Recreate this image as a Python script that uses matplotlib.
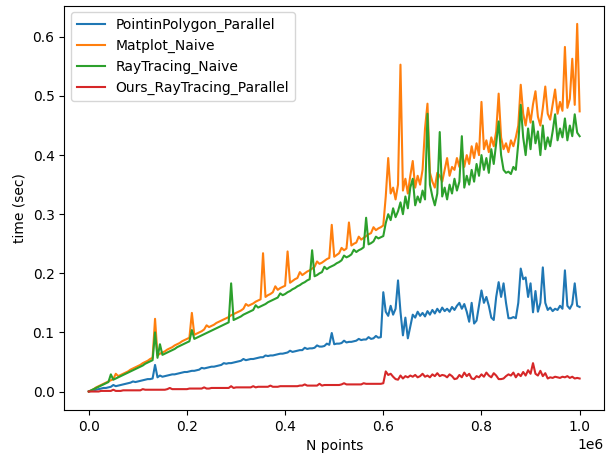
import numpy as np
import matplotlib
matplotlib.use("Agg")
import matplotlib.pyplot as plt

# number of points tested, step 5000
n_points = np.arange(0, 1000001, 5000)

# time (sec) for each method
pip_parallel = [
    0.000, 0.001, 0.002, 0.003, 0.004, 0.005, 0.006, 0.006, 0.007, 0.008,
    0.011, 0.009, 0.010, 0.011, 0.012, 0.013, 0.014, 0.015, 0.017, 0.016,
    0.017, 0.018, 0.019, 0.020, 0.021, 0.021, 0.022, 0.045, 0.024, 0.027,
    0.025, 0.026, 0.027, 0.028, 0.029, 0.029, 0.030, 0.031, 0.032, 0.033,
    0.033, 0.034, 0.035, 0.035, 0.036, 0.037, 0.040, 0.039, 0.040, 0.041,
    0.042, 0.042, 0.043, 0.044, 0.045, 0.048, 0.047, 0.048, 0.048, 0.049,
    0.050, 0.051, 0.052, 0.055, 0.053, 0.054, 0.055, 0.055, 0.056, 0.057,
    0.058, 0.058, 0.061, 0.060, 0.061, 0.061, 0.062, 0.063, 0.064, 0.064,
    0.065, 0.066, 0.069, 0.067, 0.068, 0.069, 0.070, 0.070, 0.074, 0.072,
    0.073, 0.073, 0.074, 0.078, 0.076, 0.076, 0.077, 0.081, 0.079, 0.099,
    0.080, 0.081, 0.081, 0.082, 0.086, 0.083, 0.084, 0.084, 0.085, 0.086,
    0.089, 0.087, 0.088, 0.088, 0.092, 0.089, 0.090, 0.094, 0.091, 0.092,
    0.168, 0.135, 0.128, 0.145, 0.130, 0.140, 0.188, 0.135, 0.095, 0.125,
    0.090, 0.110, 0.130, 0.125, 0.135, 0.128, 0.133, 0.127, 0.136, 0.130,
    0.138, 0.132, 0.140, 0.134, 0.142, 0.136, 0.140, 0.135, 0.143, 0.138,
    0.145, 0.150, 0.140, 0.148, 0.135, 0.118, 0.150, 0.115, 0.120, 0.145,
    0.171, 0.150, 0.160, 0.145, 0.125, 0.121, 0.160, 0.185, 0.160, 0.183,
    0.150, 0.124, 0.124, 0.126, 0.124, 0.150, 0.208, 0.190, 0.193, 0.160,
    0.183, 0.134, 0.170, 0.135, 0.150, 0.210, 0.150, 0.138, 0.142, 0.136,
    0.140, 0.138, 0.145, 0.140, 0.205, 0.145, 0.140, 0.148, 0.183, 0.145,
    0.143,
]

matplot_naive = [
    0.000, 0.002, 0.004, 0.007, 0.009, 0.011, 0.013, 0.015, 0.017, 0.019,
    0.021, 0.030, 0.026, 0.028, 0.030, 0.032, 0.034, 0.037, 0.039, 0.041,
    0.043, 0.045, 0.048, 0.050, 0.052, 0.055, 0.057, 0.123, 0.061, 0.064,
    0.066, 0.068, 0.071, 0.073, 0.075, 0.078, 0.080, 0.082, 0.085, 0.087,
    0.089, 0.091, 0.133, 0.096, 0.098, 0.100, 0.102, 0.105, 0.112, 0.109,
    0.111, 0.113, 0.116, 0.118, 0.120, 0.122, 0.124, 0.126, 0.129, 0.131,
    0.133, 0.135, 0.137, 0.140, 0.148, 0.145, 0.147, 0.149, 0.152, 0.154,
    0.156, 0.234, 0.160, 0.163, 0.165, 0.168, 0.178, 0.172, 0.175, 0.177,
    0.179, 0.237, 0.184, 0.187, 0.190, 0.192, 0.202, 0.197, 0.200, 0.203,
    0.205, 0.208, 0.211, 0.220, 0.216, 0.218, 0.221, 0.224, 0.226, 0.282,
    0.228, 0.231, 0.234, 0.243, 0.239, 0.242, 0.286, 0.247, 0.250, 0.252,
    0.262, 0.257, 0.260, 0.263, 0.266, 0.268, 0.278, 0.273, 0.276, 0.278,
    0.281, 0.330, 0.395, 0.335, 0.345, 0.325, 0.350, 0.553, 0.340, 0.360,
    0.335, 0.365, 0.390, 0.345, 0.365, 0.350, 0.375, 0.445, 0.487, 0.370,
    0.355, 0.345, 0.370, 0.365, 0.355, 0.375, 0.395, 0.365, 0.380, 0.375,
    0.395, 0.380, 0.410, 0.380, 0.400, 0.385, 0.415, 0.395, 0.420, 0.400,
    0.490, 0.410, 0.425, 0.405, 0.430, 0.415, 0.440, 0.504, 0.430, 0.410,
    0.420, 0.405, 0.425, 0.415, 0.430, 0.450, 0.519, 0.470, 0.450, 0.480,
    0.455, 0.486, 0.508, 0.465, 0.450, 0.480, 0.516, 0.470, 0.460, 0.485,
    0.511, 0.470, 0.490, 0.475, 0.583, 0.480, 0.495, 0.563, 0.485, 0.622,
    0.474,
]

raytracing_naive = [
    0.000, 0.002, 0.004, 0.006, 0.008, 0.010, 0.012, 0.014, 0.016, 0.029,
    0.020, 0.022, 0.024, 0.026, 0.028, 0.030, 0.032, 0.034, 0.036, 0.038,
    0.040, 0.042, 0.044, 0.047, 0.049, 0.051, 0.053, 0.100, 0.057, 0.080,
    0.062, 0.064, 0.066, 0.068, 0.070, 0.072, 0.075, 0.077, 0.079, 0.081,
    0.083, 0.085, 0.104, 0.089, 0.091, 0.093, 0.095, 0.097, 0.099, 0.101,
    0.103, 0.105, 0.107, 0.109, 0.111, 0.113, 0.115, 0.117, 0.183, 0.121,
    0.123, 0.125, 0.127, 0.130, 0.132, 0.134, 0.136, 0.138, 0.146, 0.142,
    0.144, 0.146, 0.148, 0.151, 0.153, 0.155, 0.157, 0.159, 0.166, 0.163,
    0.165, 0.168, 0.170, 0.173, 0.175, 0.178, 0.180, 0.183, 0.185, 0.188,
    0.190, 0.239, 0.195, 0.197, 0.200, 0.202, 0.211, 0.207, 0.210, 0.212,
    0.214, 0.217, 0.219, 0.222, 0.230, 0.227, 0.229, 0.232, 0.240, 0.236,
    0.239, 0.241, 0.244, 0.294, 0.249, 0.251, 0.254, 0.262, 0.259, 0.261,
    0.263, 0.285, 0.300, 0.290, 0.310, 0.295, 0.305, 0.320, 0.300, 0.330,
    0.310, 0.345, 0.360, 0.315, 0.330, 0.320, 0.340, 0.325, 0.470, 0.350,
    0.330, 0.315, 0.335, 0.439, 0.330, 0.345, 0.325, 0.350, 0.335, 0.360,
    0.340, 0.355, 0.432, 0.345, 0.365, 0.350, 0.375, 0.355, 0.385, 0.365,
    0.400, 0.375, 0.395, 0.370, 0.410, 0.385, 0.420, 0.457, 0.400, 0.375,
    0.370, 0.372, 0.368, 0.380, 0.375, 0.420, 0.485, 0.430, 0.400, 0.445,
    0.410, 0.457, 0.420, 0.440, 0.400, 0.450, 0.410, 0.430, 0.415, 0.440,
    0.469, 0.425, 0.445, 0.430, 0.462, 0.425, 0.450, 0.432, 0.469, 0.438,
    0.432,
]

ours_parallel = [
    0.000, 0.000, 0.000, 0.000, 0.000, 0.001, 0.001, 0.001, 0.001, 0.001,
    0.003, 0.001, 0.001, 0.001, 0.002, 0.002, 0.002, 0.002, 0.002, 0.002,
    0.002, 0.002, 0.004, 0.003, 0.003, 0.003, 0.003, 0.003, 0.003, 0.003,
    0.003, 0.003, 0.004, 0.006, 0.004, 0.004, 0.004, 0.004, 0.004, 0.004,
    0.004, 0.005, 0.005, 0.005, 0.005, 0.005, 0.005, 0.007, 0.005, 0.005,
    0.006, 0.006, 0.006, 0.006, 0.006, 0.006, 0.006, 0.006, 0.009, 0.006,
    0.007, 0.007, 0.007, 0.007, 0.007, 0.007, 0.007, 0.009, 0.007, 0.008,
    0.008, 0.008, 0.008, 0.008, 0.010, 0.008, 0.008, 0.008, 0.009, 0.009,
    0.009, 0.009, 0.009, 0.009, 0.009, 0.009, 0.010, 0.010, 0.012, 0.010,
    0.010, 0.010, 0.010, 0.010, 0.013, 0.010, 0.011, 0.011, 0.011, 0.011,
    0.011, 0.011, 0.011, 0.012, 0.014, 0.012, 0.012, 0.012, 0.012, 0.012,
    0.012, 0.012, 0.014, 0.013, 0.013, 0.013, 0.013, 0.013, 0.013, 0.013,
    0.014, 0.034, 0.028, 0.030, 0.025, 0.021, 0.020, 0.027, 0.022, 0.026,
    0.024, 0.027, 0.025, 0.028, 0.024, 0.026, 0.030, 0.025, 0.027, 0.024,
    0.029, 0.026, 0.031, 0.026, 0.028, 0.027, 0.024, 0.029, 0.026, 0.021,
    0.022, 0.028, 0.024, 0.032, 0.026, 0.030, 0.022, 0.021, 0.026, 0.024,
    0.029, 0.025, 0.032, 0.027, 0.024, 0.031, 0.027, 0.021, 0.021, 0.022,
    0.026, 0.029, 0.027, 0.032, 0.024, 0.030, 0.026, 0.033, 0.027, 0.036,
    0.030, 0.048, 0.030, 0.027, 0.035, 0.026, 0.031, 0.022, 0.024, 0.023,
    0.025, 0.024, 0.023, 0.025, 0.024, 0.026, 0.023, 0.025, 0.022, 0.023,
    0.022,
]

fig, ax = plt.subplots(figsize=(6.06, 4.59), dpi=100)
fig.subplots_adjust(left=0.106, right=0.997, bottom=0.107, top=0.988)

ax.plot(n_points, pip_parallel, label="PointinPolygon_Parallel")
ax.plot(n_points, matplot_naive, label="Matplot_Naive")
ax.plot(n_points, raytracing_naive, label="RayTracing_Naive")
ax.plot(n_points, ours_parallel, label="Ours_RayTracing_Parallel")

ax.set_xlabel("N points")
ax.set_ylabel("time (sec)")
ax.legend(loc="upper left")

fig.savefig("out.png")
